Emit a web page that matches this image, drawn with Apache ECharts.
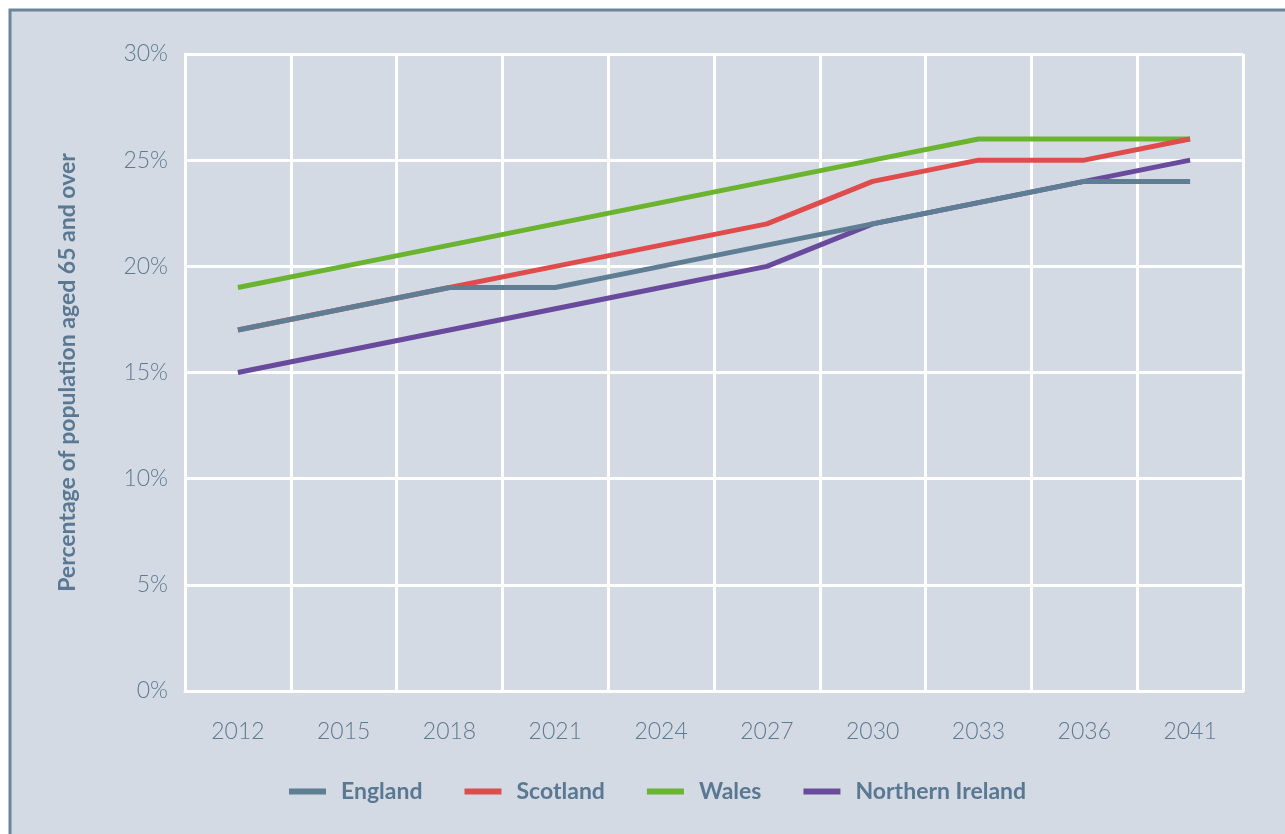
<!DOCTYPE html>
<html>
<head>
<meta charset="utf-8">
<style>
html,body{margin:0;padding:0;background:#fff;}
#chart{width:1285px;height:834px;}
</style>
<script src="https://cdn.jsdelivr.net/npm/echarts@6/dist/echarts.min.js"></script>
</head>
<body>
<div id="chart"></div>
<script>
// years
var years = ['2012','2015','2018','2021','2024','2027','2030','2033','2036','2041'];
// values in %
var england = [17,18,19,19,20,21,22,23,24,24];
var scotland = [17,18,19,20,21,22,24,25,25,26];
var wales = [19,20,21,22,23,24,25,26,26,26];
var nireland = [15,16,17,18,19,20,22,23,24,25];

var chart = echarts.init(document.getElementById('chart'));

function line(name, data, color, z){
	return {
		name: name,
		type: 'line',
		data: data,
		symbol: 'none',
		z: z,
		lineStyle: { color: color, width: 5 },
		itemStyle: { color: color }
	};
}

var option = {
	backgroundColor: '#fff',
	animation: false,
	graphic: [{
		type: 'rect',
		z: -10,
		shape: { x: 10, y: 10, width: 1300, height: 850 },
		style: { fill: '#d3dae4', stroke: '#6a859c', lineWidth: 3 }
	}],
	grid: { left: 185, right: 42, top: 54, bottom: 143 },
	legend: {
		bottom: 26,
		left: 284,
		itemWidth: 37,
		itemHeight: 6,
		itemGap: 42,
		icon: 'rect',
		textStyle: { color: '#5a7891', fontSize: 23, fontWeight: 'bold', fontFamily: 'Lato', padding: [0, 0, 0, 10] },
		data: ['England','Scotland','Wales','Northern Ireland']
	},
	xAxis: {
		type: 'category',
		data: years,
		boundaryGap: true,
		axisLine: { show: true, lineStyle: { color: '#fff', width: 3 } },
		axisTick: { show: false },
		axisLabel: { color: '#5f7a91', fontSize: 23, fontWeight: 300, fontFamily: 'Lato', margin: 29 },
		splitLine: { show: true, lineStyle: { color: '#fff', width: 3 } }
	},
	yAxis: {
		type: 'value',
		min: 0,
		max: 30,
		interval: 5,
		name: 'Percentage of population aged 65 and over',
		nameLocation: 'middle',
		nameGap: 106,
		nameTextStyle: { color: '#5a7891', fontSize: 23, fontWeight: 'bold', fontFamily: 'Lato' },
		axisLine: { show: true, lineStyle: { color: '#fff', width: 3 } },
		axisTick: { show: false },
		axisLabel: { color: '#5f7a91', fontSize: 23, fontWeight: 300, fontFamily: 'Lato', margin: 17, formatter: '{value}%' },
		splitLine: { show: true, lineStyle: { color: '#fff', width: 3 } }
	},
	series: [
		line('England', england, '#5f7d93', 5),
		line('Scotland', scotland, '#e04c4c', 3),
		line('Wales', wales, '#6ab42f', 2),
		line('Northern Ireland', nireland, '#6a4a9c', 4)
	]
};
chart.setOption(option);
</script>
</body>
</html>
